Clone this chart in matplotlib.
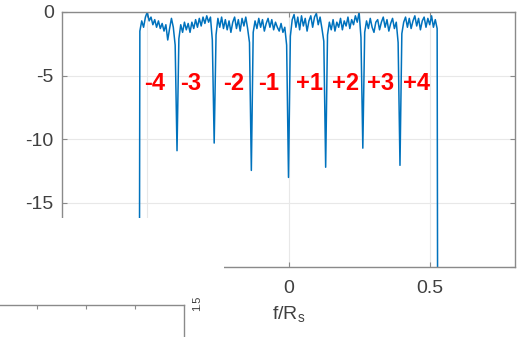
import numpy as np
import matplotlib.pyplot as plt
from matplotlib.patches import Rectangle

plt.rcParams['font.family'] = ['Liberation Sans', 'DejaVu Sans']
plt.rcParams['axes.unicode_minus'] = False

# -------------------------------
# data
# -------------------------------
band_edge = 0.525          # f/Rs where the spectrum falls off
outside_db = -40.0         # level outside the band (off the axes)

# dB per frequency bin, 20 bins per sub-band, notch at the first bin of each band
band_m4 = [-1.5, -0.7, -1.2, -0.4, 0.0, -0.7, -0.4, -1.0, -0.6, -1.2,
           -0.7, -1.3, -0.9, -1.5, -1.0, -2.2, -1.3, -0.5, -1.2, -2.6]
band_m3 = [-10.9, -2.1, -1.0, -1.6, -0.8, -1.4, -0.9, -1.6, -0.8, -1.3,
           -0.6, -1.2, -0.5, -1.1, -0.4, -0.9, -0.3, -0.8, -0.4, -2.2]
band_m2 = [-10.3, -1.8, -0.5, -1.2, -0.4, -1.3, -0.6, -1.4, -0.7, -1.6,
           -0.8, -0.4, -1.3, -0.6, -1.5, -0.5, -1.1, -0.4, -1.3, -2.4]
band_m1 = [-12.45, -1.6, -0.7, -1.3, -0.5, -1.2, -0.6, -1.5, -0.9, -0.5,
           -1.2, -0.6, -1.4, -0.8, -1.2, -1.5, -0.9, -1.6, -1.2, -2.6]
band_p1 = [-13.0, -1.9, -0.6, -0.2, -1.2, -0.4, -1.4, -0.3, -1.1, -0.5,
           -1.5, -0.7, -0.3, -1.2, -0.4, -0.1, -1.0, -0.4, -1.3, -2.3]
band_p2 = [-12.2, -1.8, -0.8, -1.4, -0.6, -1.5, -0.8, -1.2, -0.5, -1.4,
           -0.7, -1.1, -0.4, -1.3, -0.6, -1.0, -0.3, -0.8, 0.0, -2.0]
band_p3 = [-10.7, -1.6, -0.7, -1.3, -0.5, -1.2, -1.6, -0.8, -0.6, -1.4,
           -0.8, -0.4, -1.2, -0.6, -1.5, -0.9, -0.5, -1.3, -0.8, -2.4]
band_p4 = [-12.05, -1.7, -0.8, -0.4, -1.2, -0.5, -1.3, -0.7, -0.3, -1.1,
           -0.5, -1.4, -0.7, -0.4, -1.2, -0.5, -1.0, -0.3, -1.2, -0.6, -1.3]

label_text = ["-4", "-3", "-2", "-1", "+1", "+2", "+3", "+4"]
label_f = [-0.472, -0.345, -0.194, -0.070, 0.074, 0.201, 0.324, 0.451]
label_db = -5.65

# --------------------------------
# build the spectrum
# --------------------------------
inband = band_m4 + band_m3 + band_m2 + band_m1 + band_p1 + band_p2 + band_p3 + band_p4
f_in = np.linspace(-band_edge, band_edge, len(inband))
f = np.concatenate([[-band_edge - 0.003], f_in, [band_edge + 0.003]])
db = np.concatenate([[outside_db], inband, [outside_db]])

# --------------------------------
# plot
# --------------------------------
W, H = 519, 337
fig = plt.figure(figsize=(W / 100, H / 100), dpi=100)
ax = fig.add_axes([62 / W, 1 - 266.5 / H, (515 - 62) / W, (266.5 - 12) / H])

ax.plot(f, db, color='#0072BD', lw=1.1)
ax.set_xlim(-0.8, 0.8)
ax.set_ylim(-20, 0)
ax.set_xticks([-0.5, 0, 0.5])
ax.set_xticklabels(["-0.5", "0", "0.5"])
ax.set_yticks([-20, -15, -10, -5, 0])
ax.grid(True, color='#e8e8e8', lw=0.8)
ax.set_axisbelow(True)

for s in ax.spines.values():
    s.set_color('#8a8a8a')
    s.set_linewidth(1.0)
ax.tick_params(direction='in', length=3.5, width=0.8, color='#8a8a8a',
               top=True, right=True, labelsize=14, labelcolor='#404040')
ax.tick_params(axis='x', pad=10)
ax.tick_params(axis='y', pad=6)
ax.set_xlabel("f/R$_\\mathregular{s}$", fontsize=14, color='#404040', labelpad=5)

for t, x in zip(label_text, label_f):
    ax.text(x, label_db, t, color='red', fontsize=17, fontweight='bold',
            ha='center', va='center')

# white patch pasted over the lower left corner
fig.add_artist(Rectangle((0, 0), 224 / W, 1 - 218 / H, transform=fig.transFigure,
                         facecolor='white', edgecolor='none', zorder=1))

# fragment of another axes in the corner
ax2 = fig.add_axes([0, 0, 184 / W, 1 - 305 / H], zorder=2)
ax2.set_xlim(1.5 - 184 / 98, 1.5)
ax2.set_ylim(0, 1)
ax2.set_xticks([0, 0.5, 1.0])
ax2.set_yticks([])
ax2.spines['left'].set_visible(False)
ax2.spines['bottom'].set_visible(False)
for s in ['top', 'right']:
    ax2.spines[s].set_color('#8a8a8a')
    ax2.spines[s].set_linewidth(1.0)
ax2.tick_params(axis='x', direction='in', length=3, width=0.8, color='#8a8a8a',
                top=True, bottom=False, labeltop=False, labelbottom=False)
fig.text(197 / W, 1 - 303 / H, "1.5", rotation=90, fontsize=8, color='#404040',
         ha='center', va='center')

fig.savefig("out.png", dpi=100)
